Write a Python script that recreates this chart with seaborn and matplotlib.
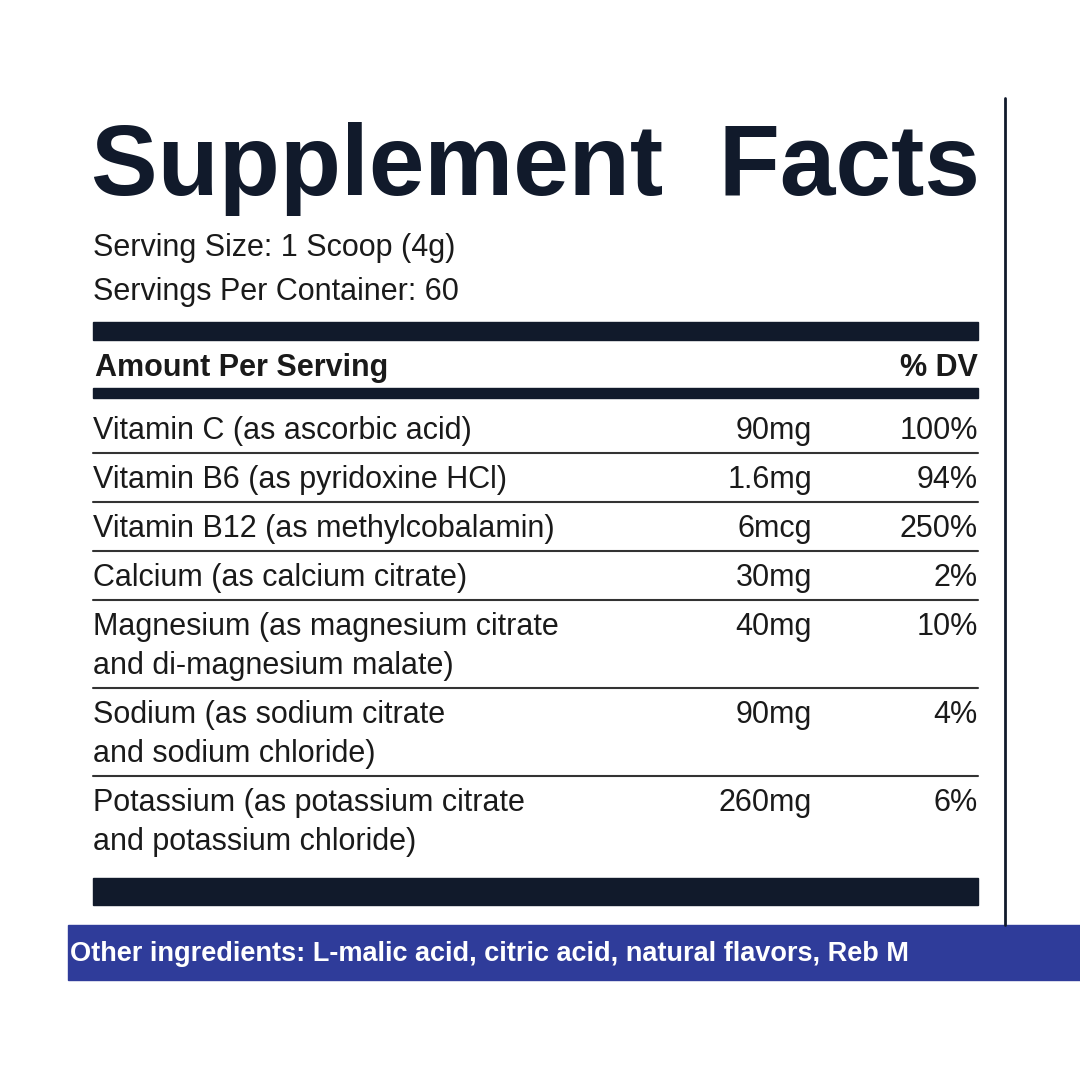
import matplotlib
matplotlib.use("Agg")
import matplotlib.pyplot as plt
import seaborn as sns
from matplotlib.patches import Rectangle

sns.set_theme(style="white")
plt.rcParams['font.family'] = ['Liberation Sans', 'DejaVu Sans']

# label data
nutrients = [
    "Vitamin C (as ascorbic acid)",
    "Vitamin B6 (as pyridoxine HCl)",
    "Vitamin B12 (as methylcobalamin)",
    "Calcium (as calcium citrate)",
    "Magnesium (as magnesium citrate\nand di-magnesium malate)",
    "Sodium (as sodium citrate\nand sodium chloride)",
    "Potassium (as potassium citrate\nand potassium chloride)",
]
amounts = ["90mg", "1.6mg", "6mcg", "30mg", "40mg", "90mg", "260mg"]
dv = ["100%", "94%", "250%", "2%", "10%", "4%", "6%"]
serving_lines = ["Serving Size: 1 Scoop (4g)", "Servings Per Container: 60"]
other_ingredients = "Other ingredients: L-malic acid, citric acid, natural flavors, Reb M"

navy = "#111a2b"
blue = "#2f3c9a"
ink = "#1a1a1a"

fig = plt.figure(figsize=(10.8, 10.8), dpi=100)
ax = fig.add_axes([0, 0, 1, 1])
ax.set_xlim(0, 1080)
ax.set_ylim(1080, 0)
ax.axis("off")

# right border of panel
ax.plot([1005, 1005], [98, 925], color=navy, lw=2)

ax.text(91, 195, "Supplement  Facts", fontsize=72, fontweight="bold", color=navy,
        va="baseline", ha="left")

for i, s in enumerate(serving_lines):
    ax.text(93, 248 + i * 44, s, fontsize=22, color=ink, va="center")

ax.add_patch(Rectangle((93, 322), 885, 18, color=navy))
ax.text(95, 368, "Amount Per Serving", fontsize=22, fontweight="bold", color=ink, va="center")
ax.text(978, 368, "% DV", fontsize=22, fontweight="bold", color=ink, va="center", ha="right")
ax.add_patch(Rectangle((93, 388), 885, 10, color=navy))

y = 431
for k, (n, a, d) in enumerate(zip(nutrients, amounts, dv)):
    parts = n.split("\n")
    for j, part in enumerate(parts):
        ax.text(93, y + j * 39, part, fontsize=22, color=ink, va="center")
    ax.text(812, y, a, fontsize=22, color=ink, va="center", ha="right")
    ax.text(978, y, d, fontsize=22, color=ink, va="center", ha="right")
    bottom = y + 22 + (len(parts) - 1) * 39
    if k < len(nutrients) - 1:
        ax.plot([93, 978], [bottom, bottom], color="#333333", lw=1.5)
    y = bottom + 27

ax.add_patch(Rectangle((93, 878), 885, 27, color=navy))

ax.add_patch(Rectangle((68, 925), 1012, 55, color=blue))
ax.text(70, 954, other_ingredients, fontsize=19.5, fontweight="bold", color="white",
        va="center", ha="left")

fig.savefig("out.png", dpi=100, facecolor="white")
